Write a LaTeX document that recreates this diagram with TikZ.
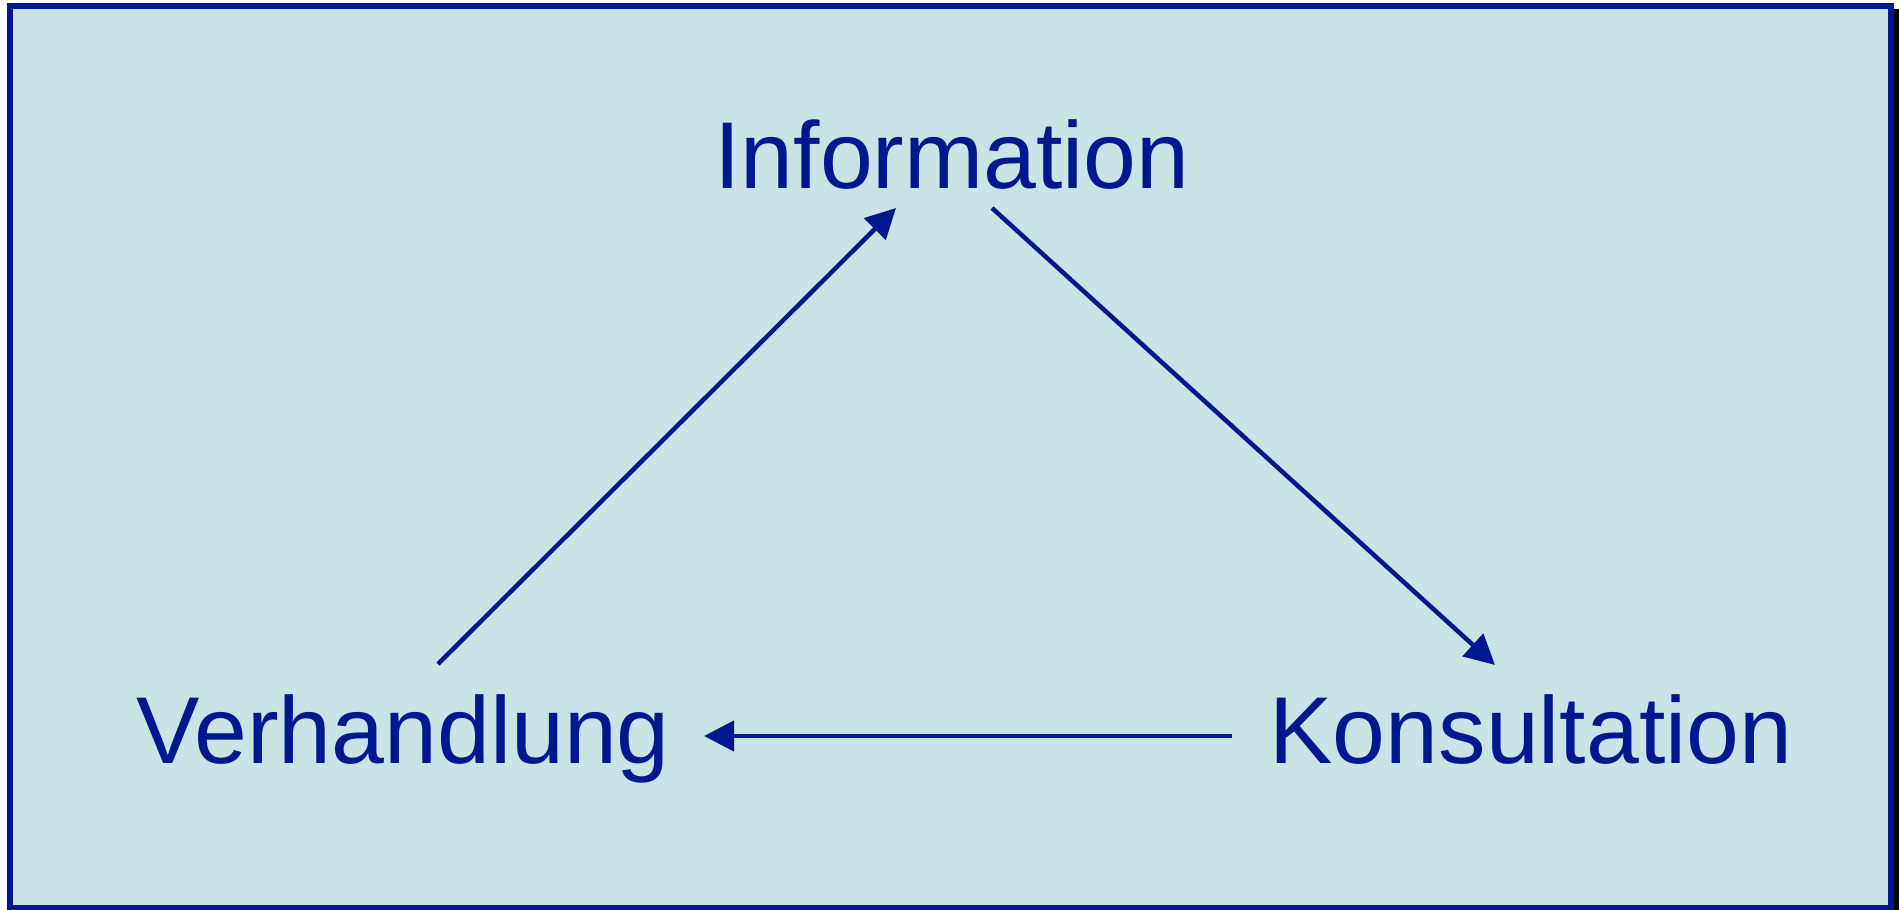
\documentclass[tikz,border=0pt]{standalone}
\usepackage{fontspec}
\setmainfont{Liberation Sans}
\usetikzlibrary{arrows.meta}
\definecolor{deepblue}{RGB}{0,24,143}
\definecolor{paleteal}{RGB}{201,228,229}
\tikzset{
  frame/.style={draw=deepblue, fill=paleteal, line width=6pt},
  label/.style={text=deepblue, inner sep=0pt, anchor=base,
    font=\fontsize{95}{114}\selectfont},
  flow/.style={draw=deepblue, line width=4.5pt,
    -{Triangle[length=30pt,width=30pt]}}
}
\begin{document}
\begin{tikzpicture}[x=1pt,y=-1pt]
  \useasboundingbox (0,0) rectangle (1899,910);
  \fill[white] (0,0) rectangle (1899,910);
  % drop shadow and framed panel
  \fill[black] (13,9) rectangle (1902,916);
  \path[frame] (10,6) rectangle (1891,908);

  % the three stages
  \node[label] (info) at (952,188) {Information};
  \node[label] (verh) at (403,763) {Verhandlung};
  \node[label] (kons) at (1531,763) {Konsultation};

  % arrow end points
  \coordinate (verhOut) at (438,664);
  \coordinate (infoIn)  at (896,208);
  \coordinate (infoOut) at (992,208);
  \coordinate (konsIn)  at (1495,665);
  \coordinate (konsOut) at (1232,736);
  \coordinate (verhIn)  at (704,736);

  \draw[flow] (verhOut) -- (infoIn);
  \draw[flow] (infoOut) -- (konsIn);
  \draw[flow] (konsOut) -- (verhIn);
\end{tikzpicture}
\end{document}
